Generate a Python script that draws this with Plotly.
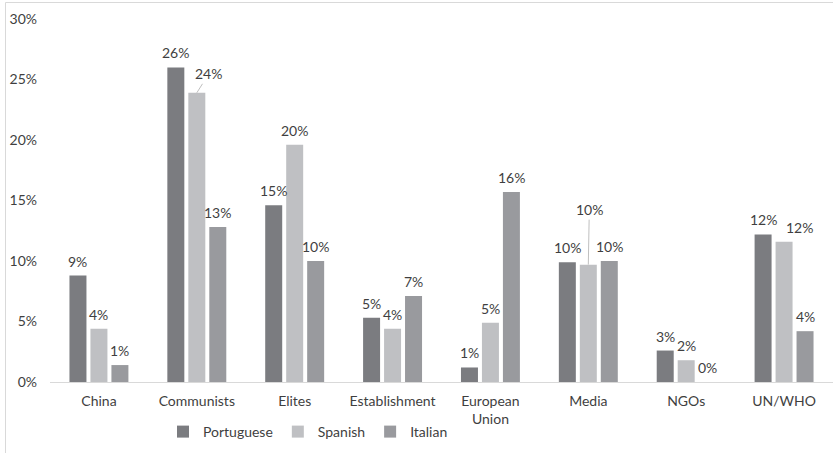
import plotly.graph_objects as go

# Share of mentions by target, per language corpus
categories = ["China", "Communists", "Elites", "Establishment", "European<br>Union",
              "Media", "NGOs", "UN/WHO"]
portuguese = [0.088, 0.260, 0.146, 0.053, 0.012, 0.099, 0.026, 0.122]
spanish = [0.044, 0.239, 0.196, 0.044, 0.049, 0.097, 0.018, 0.116]
italian = [0.014, 0.128, 0.100, 0.071, 0.157, 0.100, 0.000, 0.042]

series = [
    ("Portuguese", portuguese, "#7b7c80"),
    ("Spanish", spanish, "#bfc0c3"),
    ("Italian", italian, "#999a9e"),
]

y_ticks = [0, 0.05, 0.10, 0.15, 0.20, 0.25, 0.30]

FONT = "Lato"
TEXT = "#3f3f3f"
W, H = 833, 453
L, R, T, B = 50, 0, 19, 71
plot_w, plot_h = W - L - R, H - T - B

BARGAP = 0.357
slot = plot_w / len(categories) * (1 - BARGAP) / len(series)


def pct(v):
    return f"{int(v * 100 + 0.5)}%"


fig = go.Figure()
for name, vals, color in series:
    fig.add_trace(go.Bar(
        name=name, x=categories, y=vals,
        marker=dict(color=color, line=dict(width=0)),
        hoverinfo="skip",
    ))

# Data labels above each bar; a few are nudged away from neighbours
moved = {
    (1, 1): dict(ax=12, ay=-19, arrow=True),
    (5, 1): dict(ax=1, ay=-55, arrow=True),
    (7, 1): dict(dx=15),
}
for k, (name, vals, color) in enumerate(series):
    for i, v in enumerate(vals):
        base_shift = (k - 1) * slot
        label = pct(v)
        m = moved.get((i, k))
        if m and m.get("arrow"):
            fig.add_annotation(
                x=categories[i], y=v, xref="x", yref="y", text=label,
                xshift=base_shift, showarrow=True, arrowhead=0,
                arrowwidth=1, arrowcolor="#bfbfbf", standoff=0,
                ax=m["ax"], ay=m["ay"], axref="pixel", ayref="pixel",
                font=dict(family=FONT, size=14, color=TEXT),
            )
        else:
            dx = m["dx"] if m else 0
            fig.add_annotation(
                x=categories[i], y=v, xref="x", yref="y", text=label,
                xshift=base_shift + dx, yshift=4, yanchor="bottom",
                showarrow=False,
                font=dict(family=FONT, size=14, color=TEXT),
            )

# Chart frame
fig.add_shape(
    type="rect", xref="paper", yref="paper",
    x0=(5.5 - L) / plot_w, x1=(W + 10 - L) / plot_w,
    y0=-(H + 10 - (T + plot_h)) / plot_h, y1=(T + plot_h - 2.5) / plot_h,
    line=dict(color="#d9d9d9", width=1), fillcolor="rgba(0,0,0,0)", layer="below",
)

fig.update_layout(
    width=W, height=H,
    margin=dict(l=L, r=R, t=T, b=B, pad=0),
    paper_bgcolor="white", plot_bgcolor="white",
    barmode="group", bargap=BARGAP, bargroupgap=0.19,
    font=dict(family=FONT, size=14, color=TEXT),
    showlegend=True,
    legend=dict(
        orientation="h", x=(308 - L) / plot_w, xanchor="center",
        y=-(432 - (T + plot_h)) / plot_h, yanchor="middle",
        font=dict(family=FONT, size=14, color=TEXT),
        itemwidth=30, traceorder="normal",
        bgcolor="rgba(0,0,0,0)",
    ),
    xaxis=dict(
        type="category", showline=True, linecolor="#d9d9d9", linewidth=1,
        showgrid=False, ticks="", ticklabelstandoff=6,
        tickfont=dict(family=FONT, size=14, color=TEXT), fixedrange=True,
    ),
    yaxis=dict(
        range=[0, 0.30], tickvals=y_ticks, tickformat=".0%",
        showgrid=False, zeroline=False, showline=False, ticks="",
        ticklabelstandoff=12,
        tickfont=dict(family=FONT, size=14, color=TEXT), fixedrange=True,
    ),
)

fig.write_html("out.html")
